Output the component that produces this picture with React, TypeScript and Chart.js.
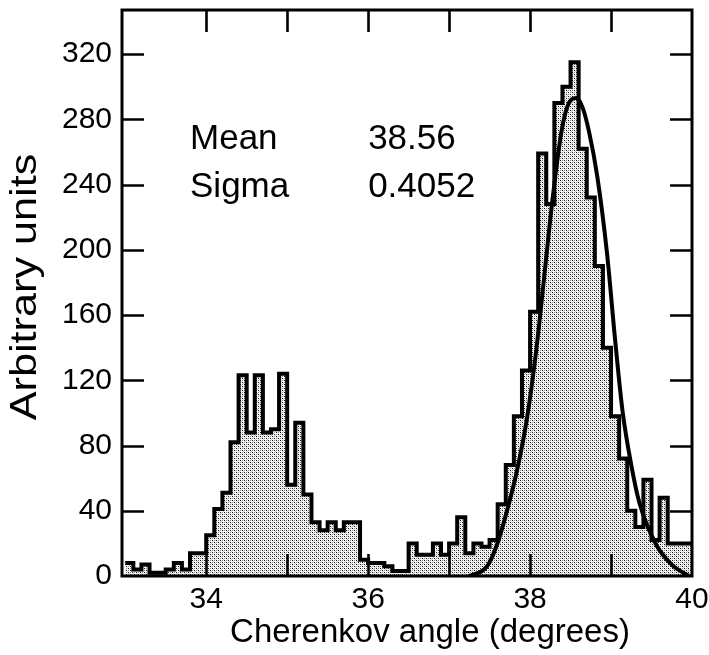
import React, { useEffect, useRef } from 'react';
import { Chart, registerables } from 'chart.js';

Chart.register(...registerables);

// ---- data ----
const BIN_START = 33.0;
const BIN_WIDTH = 0.1;
// histogram counts per 0.1-degree bin, 33.0 .. 40.0
const counts = [
  8, 8, 4, 7, 2, 2, 4, 8, 4, 14,
  14, 25, 41, 51, 82, 123, 88, 123, 88, 90,
  124, 56, 94, 50, 33, 28, 33, 28, 33, 33,
  10, 8, 8, 6, 3, 3, 20, 13, 13, 20,
  13, 20, 36, 14, 20, 18, 22, 44, 68, 98,
  126, 162, 259, 228, 290, 300, 315, 262, 232, 190,
  140, 98, 72, 40, 30, 59, 22, 48, 20, 20,
];
// fitted curve, points
const curveX = [37.25, 37.47, 37.59, 37.71, 37.84, 37.96, 38.08, 38.18, 38.28, 38.39, 38.48, 38.57, 38.65, 38.73, 38.83, 38.95, 39.05, 39.14, 39.25, 39.35, 39.56, 39.75, 39.96];
const curveY = [0, 6, 19, 39, 65, 96, 140, 186, 232, 273, 290, 293, 287, 272, 245, 198, 145, 102, 68, 45, 19, 7, 0];

const xTickValues = [33, 34, 35, 36, 37, 38, 39, 40];
const xLabelValues = [34, 36, 38, 40];
const yTickValues = [0, 40, 80, 120, 160, 200, 240, 280, 320];
const statNames = ['Mean', 'Sigma'];
const statValues = ['38.56', '0.4052'];

const xTitle = 'Cherenkov angle (degrees)';
const yTitle = 'Arbitrary units';

const X_MIN = 32.96;
const X_MAX = 40.0;
const Y_MIN = 0;
const Y_MAX = 347;

const FONT = '"Liberation Sans", Arial, Helvetica, sans-serif';

function makePattern(): CanvasPattern | string {
  const c = document.createElement('canvas');
  c.width = 4;
  c.height = 4;
  const g = c.getContext('2d');
  if (!g) return '#c4c4c4';
  g.fillStyle = '#fafafa';
  g.fillRect(0, 0, 4, 4);
  g.fillStyle = '#111';
  g.fillRect(0, 0, 1, 1);
  g.fillRect(2, 2, 1, 1);
  g.fillStyle = '#8a8a8a';
  g.fillRect(0, 2, 1, 1);
  g.fillRect(2, 0, 1, 1);
  g.fillStyle = '#d0d0d0';
  g.fillRect(1, 1, 1, 1);
  g.fillRect(3, 3, 1, 1);
  const p = g.createPattern(c, 'repeat');
  return p || '#c4c4c4';
}

const framePlugin = {
  id: 'framePlugin',
  afterDraw(chart: any) {
    const { ctx, chartArea: a, scales } = chart;
    const x = scales.x;
    const y = scales.y;
    ctx.save();
    ctx.strokeStyle = '#000';
    ctx.lineWidth = 3;
    ctx.strokeRect(a.left, a.top, a.right - a.left, a.bottom - a.top);
    const TL = 22;
    ctx.lineWidth = 2.6;
    ctx.beginPath();
    for (const v of xTickValues) {
      if (v <= X_MIN + 0.05 || v >= X_MAX - 0.05) continue;
      const px = Math.round(x.getPixelForValue(v)) + 0.5;
      ctx.moveTo(px, a.bottom);
      ctx.lineTo(px, a.bottom - TL);
      ctx.moveTo(px, a.top);
      ctx.lineTo(px, a.top + TL);
    }
    for (const v of yTickValues) {
      if (v <= Y_MIN) continue;
      const py = Math.round(y.getPixelForValue(v)) + 0.5;
      ctx.moveTo(a.left, py);
      ctx.lineTo(a.left + TL, py);
      ctx.moveTo(a.right, py);
      ctx.lineTo(a.right - TL, py);
    }
    ctx.stroke();

    ctx.fillStyle = '#000';
    ctx.font = `35px ${FONT}`;
    ctx.textAlign = 'left';
    ctx.textBaseline = 'alphabetic';
    statNames.forEach((name, i) => {
      const py = y.getPixelForValue(262 - i * 29.5);
      ctx.fillText(name, x.getPixelForValue(33.8), py);
      ctx.fillText(statValues[i], x.getPixelForValue(36.0), py);
    });

    // axis titles
    ctx.font = `33px ${FONT}`;
    ctx.textAlign = 'center';
    ctx.textBaseline = 'middle';
    ctx.fillText(xTitle, (a.left + a.right) / 2 + 23, chart.height - 22);

    ctx.save();
    ctx.translate(26, (a.top + a.bottom) / 2 - 6);
    ctx.rotate(-Math.PI / 2);
    ctx.scale(1.2, 1);
    ctx.font = `36px ${FONT}`;
    ctx.fillText(yTitle, 0, 0);
    ctx.restore();

    ctx.restore();
  },
};

export default function App() {
  const ref = useRef<HTMLCanvasElement | null>(null);

  useEffect(() => {
    const canvas = ref.current;
    if (!canvas) return;
    const histPoints = counts.map((c, i) => ({ x: +(BIN_START + i * BIN_WIDTH).toFixed(2), y: c }));
    histPoints.push({ x: +(BIN_START + counts.length * BIN_WIDTH).toFixed(2), y: counts[counts.length - 1] });
    const curvePoints = curveX.map((v, i) => ({ x: v, y: curveY[i] }));

    const chart = new Chart(canvas, {
      type: 'line',
      data: {
        datasets: [
          {
            label: 'Histogram',
            data: histPoints,
            stepped: 'after',
            borderColor: '#000',
            borderWidth: 4,
            backgroundColor: makePattern() as any,
            fill: 'origin',
            pointRadius: 0,
            order: 2,
          },
          {
            label: 'Fit',
            data: curvePoints,
            borderColor: '#000',
            borderWidth: 4,
            fill: false,
            pointRadius: 0,
            cubicInterpolationMode: 'monotone',
            order: 1,
          },
        ],
      },
      options: {
        animation: false,
        responsive: false,
        devicePixelRatio: 1,
        layout: { padding: { left: 0, top: 10, right: 17, bottom: 0 } },
        plugins: {
          legend: { display: false },
          tooltip: { enabled: false },
        },
        scales: {
          x: {
            type: 'linear',
            min: X_MIN,
            max: X_MAX,
            grid: { display: false, drawTicks: false },
            border: { display: false },
            afterBuildTicks: (scale: any) => {
              scale.ticks = xTickValues.map((v) => ({ value: v }));
            },
            afterFit: (scale: any) => {
              scale.height = 79;
              scale.paddingLeft = 0;
              scale.paddingRight = 0;
            },
            ticks: {
              autoSkip: false,
              maxRotation: 0,
              minRotation: 0,
              padding: 6,
              color: '#000',
              font: { family: FONT, size: 30 },
              callback: (v: any) => (xLabelValues.includes(Number(v)) ? String(v) : ''),
            },
            title: { display: false, text: xTitle },
          },
          y: {
            type: 'linear',
            min: Y_MIN,
            max: Y_MAX,
            grid: { display: false, drawTicks: false },
            border: { display: false },
            afterBuildTicks: (scale: any) => {
              scale.ticks = yTickValues.map((v) => ({ value: v }));
            },
            afterFit: (scale: any) => {
              scale.width = 122;
              scale.paddingTop = 0;
              scale.paddingBottom = 0;
            },
            ticks: {
              autoSkip: false,
              padding: 10,
              color: '#000',
              font: { family: FONT, size: 30 },
              callback: (v: any) => String(v),
            },
            title: { display: false, text: yTitle },
          },
        },
      },
      plugins: [framePlugin],
    });
    return () => chart.destroy();
  }, []);

  return (
    <div style={{ position: 'absolute', left: 0, top: 0, width: 709, height: 655, background: '#fff' }}>
      <canvas ref={ref} width={709} height={655} style={{ display: 'block' }} />
    </div>
  );
}
